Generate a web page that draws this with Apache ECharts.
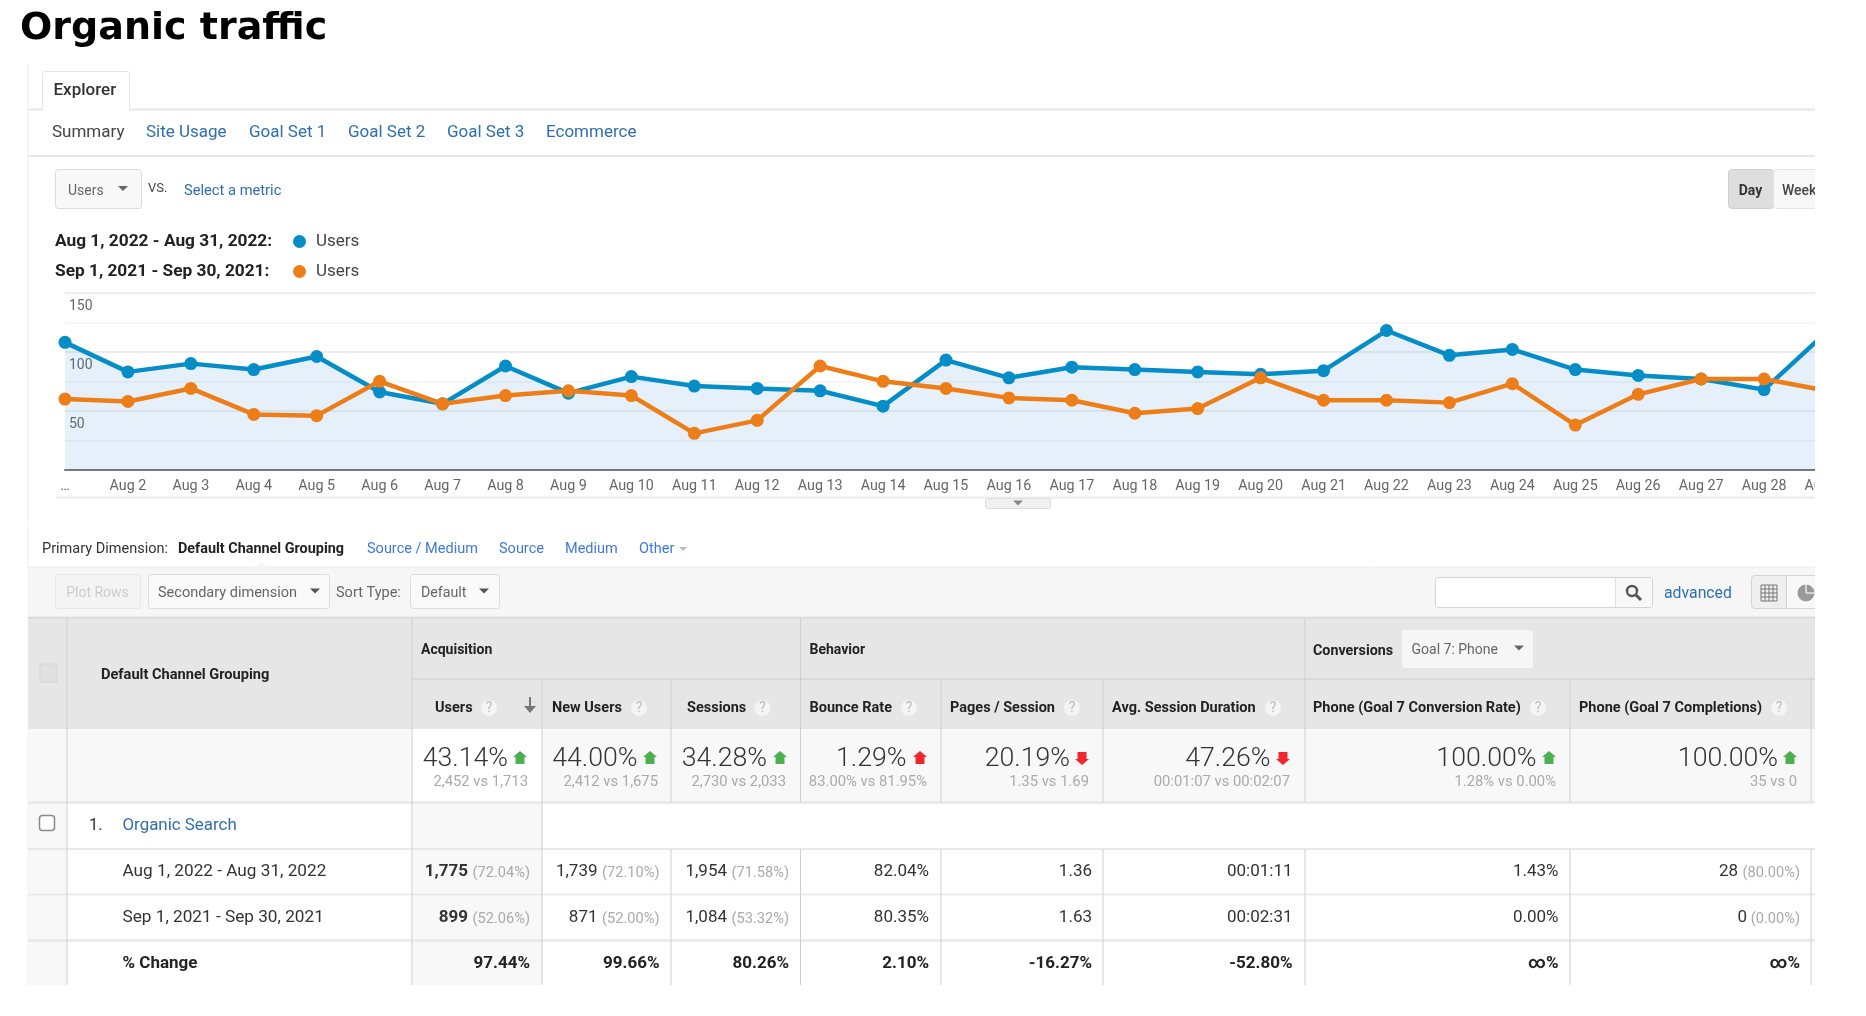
<!DOCTYPE html>
<html><head><meta charset="utf-8">
<style>html,body{margin:0;padding:0;background:#fff}#c{width:1866px;height:1016px}</style>
<script src="https://cdn.jsdelivr.net/npm/echarts@6/dist/echarts.min.js"></script>
</head><body><div id="c"></div>
<script>
// ---------- data ----------
const titleText = 'Organic traffic';
const days = ['…','Aug 2','Aug 3','Aug 4','Aug 5','Aug 6','Aug 7','Aug 8','Aug 9','Aug 10','Aug 11','Aug 12','Aug 13','Aug 14','Aug 15','Aug 16','Aug 17','Aug 18','Aug 19','Aug 20','Aug 21','Aug 22','Aug 23','Aug 24','Aug 25','Aug 26','Aug 27','Aug 28','Aug 29'];
const users2022 = [108,83,90,85,96,66,56,88,65,79,71,69,67,54,93,78,87,85,83,81,84,118,97,102,85,80,77,68,117];
const users2021 = [60,58,69,47,46,75,56,63,67,63,31,42,88,75,69,61,59,48,52,78,59,59,57,73,38,64,77,77,67];
const rangeA = 'Aug 1, 2022 - Aug 31, 2022';
const rangeB = 'Sep 1, 2021 - Sep 30, 2021';
const tabs = ['Summary','Site Usage','Goal Set 1','Goal Set 2','Goal Set 3','Ecommerce'];
const dimensions = ['Source / Medium','Source','Medium','Other'];
const metricHeads = ['Users','New Users','Sessions','Bounce Rate','Pages / Session','Avg. Session Duration','Phone (Goal 7 Conversion Rate)','Phone (Goal 7 Completions)'];
const summaryPct = ['43.14%','44.00%','34.28%','1.29%','20.19%','47.26%','100.00%','100.00%'];
const summaryUp = [true,true,true,true,false,false,true,true];
const summaryGood = [true,true,true,false,false,false,true,true];
const summaryVs = ['2,452 vs 1,713','2,412 vs 1,675','2,730 vs 2,033','83.00% vs 81.95%','1.35 vs 1.69','00:01:07 vs 00:02:07','1.28% vs 0.00%','35 vs 0'];
const rowA = ['1,775','1,739','1,954','82.04%','1.36','00:01:11','1.43%','28'];
const rowAShare = ['(72.04%)','(72.10%)','(71.58%)','','','','','(80.00%)'];
const rowB = ['899','871','1,084','80.35%','1.63','00:02:31','0.00%','0'];
const rowBShare = ['(52.06%)','(52.00%)','(53.32%)','','','','','(0.00%)'];
const rowChange = ['97.44%','99.66%','80.26%','2.10%','-16.27%','-52.80%','∞%','∞%'];

// ---------- layout ----------
const F = 'Roboto, "Liberation Sans", sans-serif';
const BLUE='#058dc7', ORANGE='#ed7e17', LINK='#2f6fb0', LINK2='#3f78dc';
const els = [];
function T(x,y,text,o={}){ els.push({type:'text',z:o.z||10,style:{x,y:y+1,text,fill:o.c||'#333',fontFamily:o.f||F,fontSize:o.s||14,fontWeight:o.w||400,align:o.a||'left',verticalAlign:'middle'}}); }
function R(x,y,w,h,fill,o={}){ els.push({type:'rect',z:o.z||1,shape:{x,y,width:w,height:h,r:o.r||0},style:{fill,stroke:o.b||null,lineWidth:o.b?(o.lw||1):0}}); }
function L(x1,y1,x2,y2,c,lw=1,z=3){ els.push({type:'line',z,shape:{x1,y1,x2,y2},style:{stroke:c,lineWidth:lw}}); }
function P(pts,fill,z=11){ els.push({type:'polygon',z,shape:{points:pts},style:{fill}}); }
function caret(x,y,c='#666',w=5,h=5){ P([[x-w,y-h/2],[x+w,y-h/2],[x,y+h/2]],c); }
function updown(x,y,up,c){ const s=up?1:-1; P([[x,y-7*s],[x+7,y-1*s],[x+4.5,y-1*s],[x+4.5,y+6*s],[x-4.5,y+6*s],[x-4.5,y-1*s],[x-7,y-1*s]],c); }
function help(x,y){ els.push({type:'circle',z:10,shape:{cx:x,cy:y,r:8},style:{fill:'#f4f4f4'}}); T(x,y-1,'?',{a:'center',s:14,c:'#bbb'}); }

const RIGHT=1815, LEFT=28;
// title
T(20,28.5,titleText,{s:38,w:700,c:'#000',f:'"DejaVu Sans", Inter, sans-serif'});
// panel frame
L(LEFT,64,LEFT,985,'#f0f0f0',1,2);
// tab
L(LEFT,109.5,RIGHT,109.5,'#e6e6e6',2);
R(42.5,71.5,87,38,'#fff',{b:'#e4e4e4',r:2,z:4});
R(43,106,86,5,'#fff',{z:5});
T(53.5,90,'Explorer',{s:17,w:500,c:'#333'});
// sub tabs
const tabX=[52,146,249,348,447,546];
tabs.forEach((s,i)=>T(tabX[i],132,s,{s:17,c:i?LINK:'#444'}));
L(LEFT,156,RIGHT,156,'#e6e6e6',2);
// metric selector
R(55.5,169.5,86,39,'#f8f8f8',{b:'#dcdcdc',r:3});
T(68,190,'Users',{s:14,c:'#666'}); caret(123,188.5);
T(148,188,'VS.',{s:13,c:'#444'});
T(184,190,'Select a metric',{s:14.7,c:LINK});
R(1728.5,169.5,45,39,'#dedede',{b:'#cfcfcf',r:3});
R(1773.5,169.5,60,39,'#f8f8f8',{b:'#e4e4e4',r:3});
T(1750.5,190,'Day',{s:14,w:700,a:'center',c:'#333'});
T(1782,190,'Week',{s:14,w:500,c:'#444'});
// legend
T(55,241,rangeA+':',{s:17.3,w:700,c:'#222'});
T(55,271,rangeB+':',{s:17.3,w:700,c:'#222'});
[[241,BLUE],[271,ORANGE]].forEach(([y,c])=>{els.push({type:'circle',z:10,shape:{cx:299.5,cy:y+0.5,r:6.5},style:{fill:c}});T(316,y,'Users',{s:17,c:'#444'});});
// chart footer
L(56,497.5,RIGHT,497.5,'#ececec',2,3);
R(985.5,498.5,65,10,'#f0f0f0',{b:'#dddddd',r:2,z:4}); caret(1018,503,'#888',5,5);
// cover to the right of the plot (chart is cropped there)
R(RIGHT,160,51,345,'#fff',{z:100});
// dimension row
T(42,548,'Primary Dimension:',{s:14.5,c:'#333'});
T(178,548,'Default Channel Grouping',{s:14.4,w:700,c:'#222'});
const dimX=[367,499,565,639];
dimensions.forEach((s,i)=>T(dimX[i],548,s,{s:14.5,c:LINK2}));
caret(683,549,'#bbb',4,4);
// toolbar
R(LEFT,567,RIGHT-LEFT,50,'#f6f6f6');
L(LEFT,567,RIGHT,567,'#ececec',1,2);
P([[254,567.5],[261,561],[268,567.5]],'#f6f6f6',4);
R(55.5,574.5,85,34,'#f4f4f4',{b:'#e6e6e6',r:3,z:2}); T(97.5,592,'Plot Rows',{s:14,a:'center',c:'#ccc'});
R(148.5,574.5,181,34,'#fafafa',{b:'#dcdcdc',r:3,z:2}); T(158,592,'Secondary dimension',{s:14.5,c:'#666'}); caret(315,591,'#555');
T(336,592,'Sort Type:',{s:14.5,c:'#666'});
R(410.5,574.5,89,34,'#fafafa',{b:'#dcdcdc',r:3,z:2}); T(421,592,'Default',{s:14.2,c:'#666'}); caret(484,591,'#555');
R(1435.5,577.5,217,30,'#fff',{b:'#d4d4d4',r:2,z:2}); R(1615.5,578,36.5,29,'#f8f8f8',{z:3}); L(1615.5,578,1615.5,607,'#e0e0e0',1,4);
els.push({type:'circle',z:5,shape:{cx:1632,cy:591,r:5},style:{fill:null,stroke:'#555',lineWidth:2.4}}); L(1636,595,1641,600,'#555',3,5);
T(1664,593,'advanced',{s:15.8,c:LINK});
R(1751.5,575.5,90,33,'#efefef',{b:'#d4d4d4',r:3,z:2}); R(1787,576,55,32,'#f8f8f8',{z:3}); L(1786.5,576,1786.5,608,'#d4d4d4',1,4);
for(let k=0;k<5;k++){L(1761,585+k*4,1777,585+k*4,'#777',1,5);L(1761+k*4,585,1761+k*4,601,'#777',1,5);}
els.push({type:'circle',z:5,shape:{cx:1806,cy:593,r:8.5},style:{fill:'#999'}});
L(1806,593,1806,584,'#f8f8f8',1.2,6); L(1806,593,1815,593,'#f8f8f8',1.2,6);
R(RIGHT,570,51,45,'#fff',{z:100});
// table header
const cols=[412,542,671,800.5,941,1103,1305,1570,1811];
R(LEFT,617,RIGHT-LEFT,112,'#e6e6e6');
L(LEFT,617.5,RIGHT,617.5,'#d8d8d8',1.5,2);
L(412,679,RIGHT,679,'#d4d4d4',1.5,4);
R(40,664,17,18,'#e0e0e0',{b:'#d6d6d6',z:4});
T(101,674,'Default Channel Grouping',{s:14.6,w:700,c:'#222'});
T(421,649,'Acquisition',{s:14,w:700,c:'#222'});
T(809.5,649,'Behavior',{s:14,w:700,c:'#222'});
T(1313,650,'Conversions',{s:14.3,w:700,c:'#222'});
R(1402,630,131,38,'#f6f6f6',{r:3,z:3});
T(1411.5,649,'Goal 7: Phone',{s:14,c:'#666'}); caret(1519,648,'#666');
const headX=[435,552,687,809.5,950,1112,1313,1579], helpX=[489,639,762.5,909,1072,1273,1538,1779];
metricHeads.forEach((s,i)=>{T(headX[i],707,s,{s:14.5,w:700,c:'#222'});help(helpX[i],708);});
L(530,697,530,710,'#777',2,5); P([[524,706],[536,706],[530,713]],'#777');
// summary + rows backgrounds
R(LEFT,729,RIGHT-LEFT,73,'#f8f8f8');
R(412,729,130,73,'#fff',{z:2});
R(LEFT,802,39,183,'#f8f8f8');
R(412,802,130,183,'#f8f8f8',{z:2});
L(LEFT,802.5,RIGHT,802.5,'#e8e8e8',2.5,4);
L(LEFT,849,RIGHT,849,'#e8e8e8',2,4);
L(LEFT,894.5,RIGHT,894.5,'#e6e6e6',1.5,4);
L(LEFT,940.5,RIGHT,940.5,'#e8e8e8',2.5,4);
// verticals
L(67,617,67,985,'#cfcfcf',1,5);
L(412,617,412,985,'#cfcfcf',1,5);
cols.slice(1).forEach((x,i)=>{ L(x,679,x,802,'#cfcfcf',1,5); });
L(542,802,542,985,'#cfcfcf',1,5);
cols.slice(2).forEach(x=>L(x,849,x,985,'#cfcfcf',1,5));
[800.5,1305].forEach(x=>L(x,617,x,679,'#cfcfcf',1,5));
// summary values
const pctRight=[508,637.5,767,906.5,1070,1270.5,1536.5,1778], arrowX=[520,650,780,920,1082,1283,1549,1790], vsRight=[528,658,786,927,1089,1290,1556,1797];
summaryPct.forEach((s,i)=>{T(pctRight[i],758,s,{s:26.7,w:300,a:'right',c:'#333'});updown(arrowX[i],758,summaryUp[i],summaryGood[i]?'#4caf50':'#f0282d');T(vsRight[i],781,summaryVs[i],{s:14.8,a:'right',c:'#aaa'});});
// rows
els.push({type:'rect',z:6,shape:{x:39.5,y:815.5,width:15,height:15,r:3},style:{fill:'#fff',stroke:'#8a8a8a',lineWidth:1.5}});
T(89,825,'1.',{s:16.5,c:'#333'});
T(122.5,825,'Organic Search',{s:16.9,c:LINK});
T(122.5,871,rangeA,{s:17.2,c:'#333'});
T(122.5,917,rangeB,{s:17.2,c:'#333'});
T(122.5,963,'% Change',{s:17,w:700,c:'#222'});
const valRight=[530,659.5,789,929,1092,1292.5,1558.5,1800];
function row(y,vals,shares){vals.forEach((s,i)=>{
  if(shares[i]){ T(valRight[i],y+1,shares[i],{s:14.6,a:'right',c:'#aaa'}); T(valRight[i]-(i==7&&s==='0'?53:62),y,s,{s:17,w:i==0?700:400,a:'right',c:'#333'}); }
  else T(valRight[i],y,s,{s:17,a:'right',c:'#333'});
});}
row(871,rowA,rowAShare); row(917,rowB,rowBShare);
rowChange.forEach((s,i)=>T(valRight[i],963,s,{s:17,w:700,a:'right',c:'#222'}));

// ---------- chart ----------
const chart = echarts.init(document.getElementById('c'),null,{renderer:'canvas',width:1866,height:1016});
chart.setOption({
  animation:false,
  backgroundColor:'#fff',
  grid:{left:65,right:39,top:292.7,height:177.3,containLabel:false},
  xAxis:{type:'category',boundaryGap:false,data:days,
    axisLine:{show:true,onZero:false,lineStyle:{color:'#777',width:2}},axisTick:{show:false},splitLine:{show:false},
    axisLabel:{interval:0,margin:9,fontFamily:F,fontSize:14.3,color:'#666',showMinLabel:true,showMaxLabel:true,hideOverlap:false,alignMinLabel:'center',alignMaxLabel:'center'}},
  yAxis:{type:'value',min:0,max:150,interval:25,
    axisLine:{show:false},axisTick:{show:false},
    splitLine:{show:true,showMinLine:false,lineStyle:{color:['#f3f3f3','#e8e8e8'],width:1.5}},
    axisLabel:{inside:true,margin:4,verticalAlign:'top',padding:[7,0,0,0],fontFamily:F,fontSize:14,color:'#666',textBorderColor:'#fff',textBorderWidth:2,
      formatter:v=>(v>0&&v%50===0)?String(v):''}},
  series:[
    {name:'Users',type:'line',data:users2022,symbol:'circle',symbolSize:13,z:3,lineStyle:{color:BLUE,width:4.5},itemStyle:{color:BLUE},areaStyle:{color:'rgb(60,140,220)',opacity:0.13}},
    {name:'Users',type:'line',data:users2021,symbol:'circle',symbolSize:13,z:4,lineStyle:{color:ORANGE,width:4.5},itemStyle:{color:ORANGE}}
  ],
  graphic:{elements:els}
});
</script></body></html>
